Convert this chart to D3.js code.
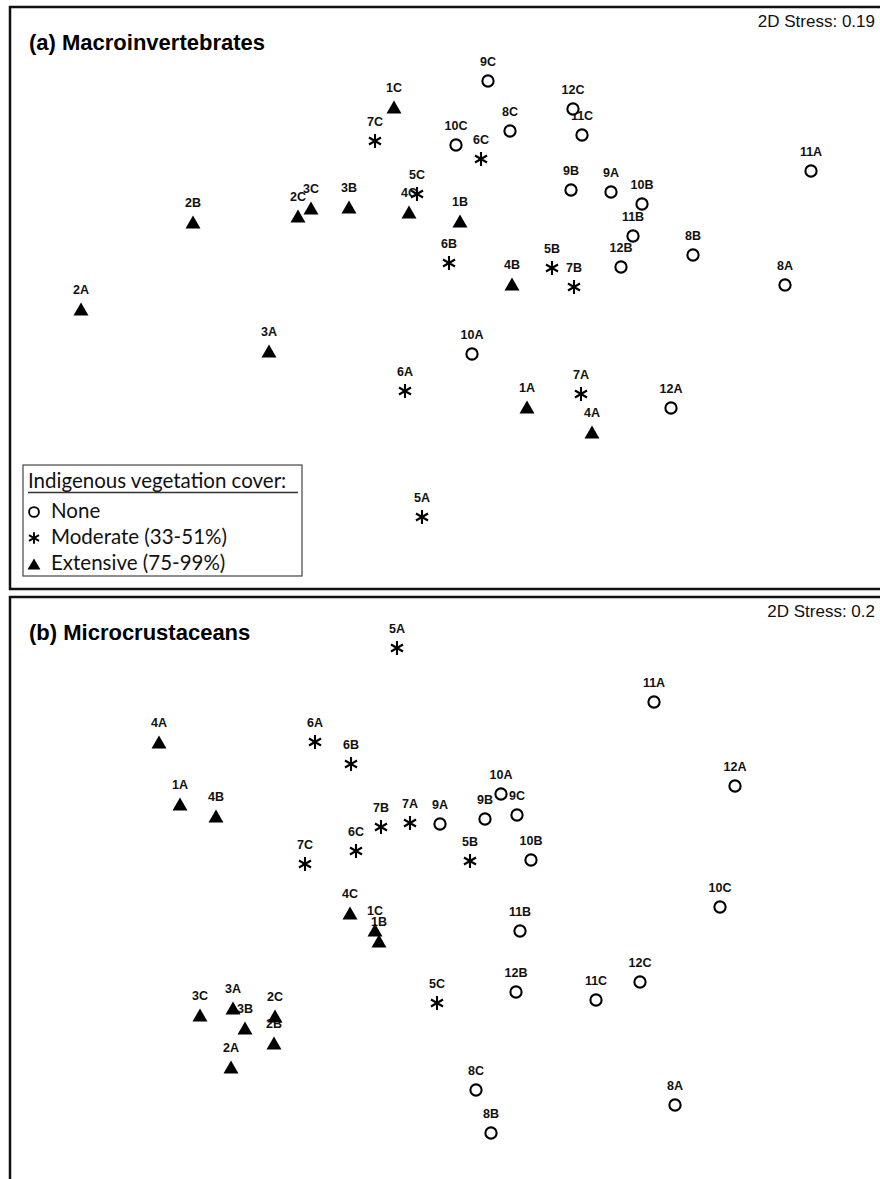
<!DOCTYPE html>
<html>
<head>
<meta charset="utf-8">
<script src="https://cdn.jsdelivr.net/npm/d3@7"></script>
<style>
    body { margin: 0; background: #fff; }
    svg { display: block; }
</style>
</head>
<body>
<div id="chart"></div>
<script>
// sample labels: site 1-12, position A/B/C
const samples = ['1A', '1B', '1C', '2A', '2B', '2C', '3A', '3B', '3C', '4A', '4B', '4C',
    '5A', '5B', '5C', '6A', '6B', '6C', '7A', '7B', '7C', '8A', '8B', '8C',
    '9A', '9B', '9C', '10A', '10B', '10C', '11A', '11B', '11C', '12A', '12B', '12C'];

// indigenous vegetation cover per site (1..12)
const siteCover = ['Extensive', 'Extensive', 'Extensive', 'Extensive', 'Moderate', 'Moderate',
    'Moderate', 'None', 'None', 'None', 'None', 'None'];

const coverClasses = ['None', 'Moderate', 'Extensive'];
const coverLabels = ['None', 'Moderate (33-51%)', 'Extensive (75-99%)'];

// nMDS ordination, macroinvertebrates
const macroX = [0.82, 0.15, -0.51, -3.64, -2.52, -1.47, -1.76, -0.96, -1.34, 1.47, 0.67, -0.36,
    -0.23, 1.07, -0.28, -0.40, 0.04, 0.36, 1.36, 1.29, -0.70, 3.40, 2.48, 0.65,
    1.66, 1.26, 0.43, 0.27, 1.97, 0.11, 3.66, 1.88, 1.37, 2.26, 1.76, 1.28];
const macroY = [-1.07, 0.79, 1.93, -0.09, 0.78, 0.84, -0.51, 0.93, 0.92, -1.32, 0.16, 0.88,
    -2.17, 0.32, 1.06, -0.91, 0.37, 1.41, -0.94, 0.13, 1.59, 0.15, 0.45, 1.69,
    1.08, 1.10, 2.19, -0.54, 0.96, 1.55, 1.29, 0.64, 1.65, -1.08, 0.33, 1.91];
const macroStress = '2D Stress: 0.19';

// nMDS ordination, microcrustaceans
const microX = [-2.65, -0.66, -0.70, -2.14, -1.71, -1.70, -2.12, -2.00, -2.45, -2.86, -2.29, -0.95,
    -0.48, 0.25, -0.08, -1.30, -0.94, -0.89, -0.35, -0.64, -1.40, 2.30, 0.46, 0.31,
    -0.05, 0.40, 0.72, 0.56, 0.86, 2.75, 2.09, 0.75, 1.51, 2.90, 0.71, 1.95];
const microY = [0.96, -0.41, -0.30, -1.67, -1.43, -1.16, -1.08, -1.28, -1.15, 1.58, 0.84, -0.13,
    2.52, 0.39, -1.03, 1.58, 1.36, 0.49, 0.77, 0.73, 0.36, -2.05, -2.33, -1.90,
    0.76, 0.81, 0.85, 1.06, 0.40, -0.07, 1.98, -0.31, -1.00, 1.14, -0.92, -0.82];
const microStress = '2D Stress: 0.2';

const width = 880;
const height = 1179;

const x = d3.scaleLinear().domain([-4, 4]).range([45, 845]);
const yA = d3.scaleLinear().domain([-3, 3]).range([600, 0]);
const yB = d3.scaleLinear().domain([-3, 3]).range([1200, 600]);

// upward triangle centred on its bounding box
const triangleUp = {
    draw(context, size) {
        const w = Math.sqrt(size * 4 / Math.sqrt(3));
        const h = w * Math.sqrt(3) / 2;
        context.moveTo(0, -h / 2);
        context.lineTo(w / 2, h / 2);
        context.lineTo(-w / 2, h / 2);
        context.closePath();
    }
};

function symbolFor(cover, small) {
    if (cover === 'None') return d3.symbol(d3.symbolCircle, small ? 76 : 99)();
    if (cover === 'Moderate') return d3.symbol(d3.symbolAsterisk, small ? 95 : 136)();
    return d3.symbol(triangleUp, small ? 72 : 97)();
}

function styleSymbol(sel, cover, sw) {
    if (cover === 'Extensive') {
        sel.style('fill', '#000').style('stroke', 'none');
    } else if (cover === 'Moderate') {
        sel.style('fill', 'none').style('stroke', '#000').style('stroke-width', sw);
    } else {
        sel.style('fill', '#fff').style('stroke', '#000').style('stroke-width', sw);
    }
}

const svg = d3.select('#chart')
    .append('svg')
    .attr('width', width)
    .attr('height', height)
    .attr('viewBox', `0,0,${width},${height}`);

function drawPanel(top, bottom, title, stress, xs, ys, y) {
    const g = svg.append('g');

    // panel frame (runs off the right edge like the original)
    g.append('rect')
        .attr('x', 10)
        .attr('y', top)
        .attr('width', 900)
        .attr('height', bottom - top)
        .style('fill', 'none')
        .style('stroke', '#111')
        .style('stroke-width', 2.5);

    g.append('text')
        .attr('x', 29)
        .attr('y', top + 43)
        .style('font-family', '"Liberation Sans", Arial, sans-serif')
        .style('font-weight', 'bold')
        .style('font-size', '22px')
        .style('fill', '#000')
        .text(title);

    g.append('text')
        .attr('x', 875)
        .attr('y', top + 20)
        .attr('text-anchor', 'end')
        .style('font-family', '"Liberation Sans", Arial, sans-serif')
        .style('font-size', '17px')
        .style('fill', '#111')
        .text(stress);

    const pts = samples.map((s, i) => ({
        label: s,
        cover: siteCover[parseInt(s) - 1],
        x: xs[i],
        y: ys[i]
    }));

    // labels first, markers drawn over them
    g.selectAll('text.lab')
        .data(pts)
        .enter()
        .append('text')
        .attr('class', 'lab')
        .attr('x', d => x(d.x))
        .attr('y', d => y(d.y) - 15)
        .attr('text-anchor', 'middle')
        .style('font-family', '"Liberation Sans", Arial, sans-serif')
        .style('font-weight', 'bold')
        .style('font-size', '12.5px')
        .style('fill', '#111')
        .text(d => d.label);

    g.selectAll('path.pt')
        .data(pts)
        .enter()
        .append('path')
        .attr('class', 'pt')
        .attr('d', d => symbolFor(d.cover, false))
        .attr('transform', d => `translate(${[x(d.x), y(d.y)]})`)
        .each(function (d) { styleSymbol(d3.select(this), d.cover, 2.1); });

    return g;
}

const gA = drawPanel(7, 589, '(a) Macroinvertebrates', macroStress, macroX, macroY, yA);
drawPanel(597, 1230, '(b) Microcrustaceans', microStress, microX, microY, yB);

// legend
const legend = gA.append('g');

legend.append('rect')
    .attr('x', 23)
    .attr('y', 465)
    .attr('width', 279)
    .attr('height', 111)
    .style('fill', '#fff')
    .style('stroke', '#444')
    .style('stroke-width', 1.2);

const legendFont = 'Lato, "Open Sans", sans-serif';

const legendTitle = legend.append('text')
    .attr('x', 28)
    .attr('y', 488)
    .style('font-family', legendFont)
    .style('font-size', '18px')
    .style('fill', '#111')
    .text('Indigenous vegetation cover:');

// fit the title to the box width (original font is narrower)
let fs = 18 * 270 / legendTitle.node().getComputedTextLength();
fs = Math.min(fs, 20.5);
legendTitle.style('font-size', fs + 'px');

legend.append('line')
    .attr('x1', 28)
    .attr('x2', 298)
    .attr('y1', 492.5)
    .attr('y2', 492.5)
    .style('stroke', '#333')
    .style('stroke-width', 1.3);

coverClasses.forEach((c, i) => {
    const cy = 512 + i * 26;
    legend.append('path')
        .attr('d', symbolFor(c, true))
        .attr('transform', `translate(${[34, cy]})`)
        .call(sel => styleSymbol(sel, c, 1.9));
    legend.append('text')
        .attr('x', 51)
        .attr('y', cy + 6)
        .style('font-family', legendFont)
        .style('font-size', fs + 'px')
        .style('fill', '#111')
        .text(coverLabels[i]);
});
</script>
</body>
</html>
